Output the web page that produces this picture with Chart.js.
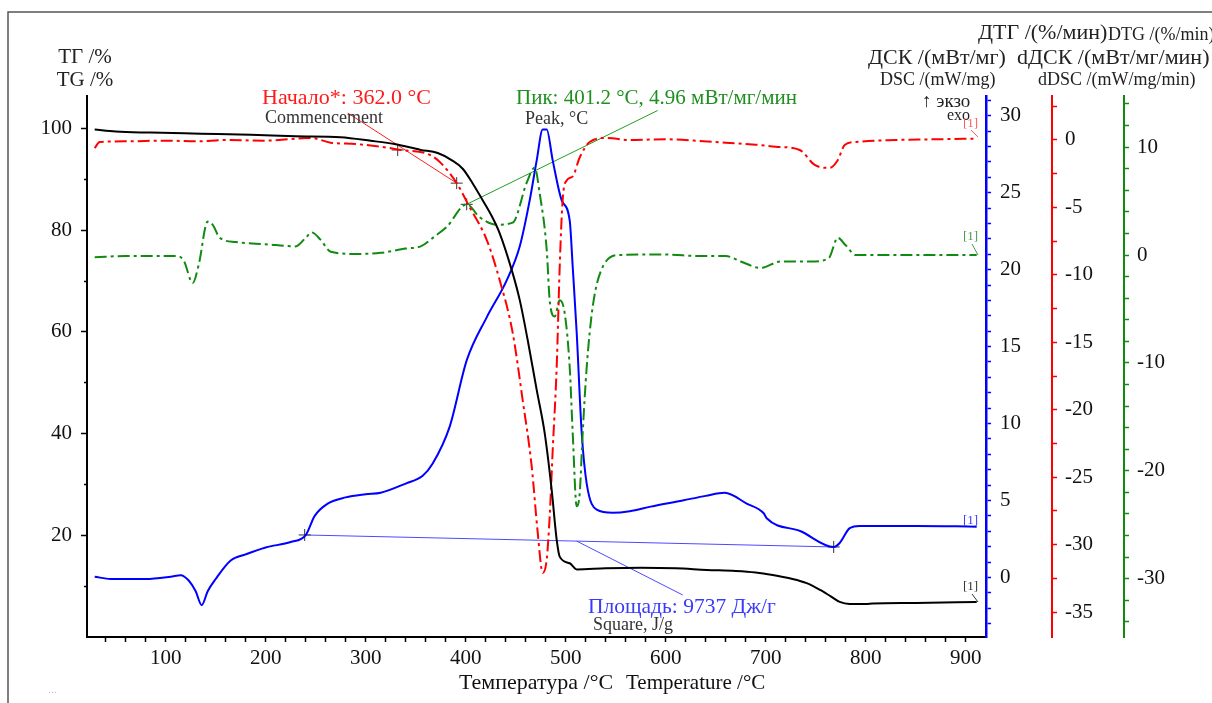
<!DOCTYPE html>
<html>
<head>
<meta charset="utf-8">
<script src="https://cdn.jsdelivr.net/npm/chart.js@4.4.1/dist/chart.umd.min.js"></script>
<style>
	body { margin: 0; background: #fff; }
	#wrap { width: 1212px; height: 703px; }
</style>
</head>
<body>
<div id="wrap"><canvas id="chart" width="1212" height="703"></canvas></div>
<script>

// ТГ, %
var tgT = [29, 50, 85, 135, 185, 230, 275, 305, 330, 355, 372, 385, 397, 407, 417, 426, 434, 446, 454, 462, 471, 479, 486, 491, 494, 504, 511, 540, 575, 610, 641, 670, 690, 707, 725, 741, 755, 765, 774, 784, 800, 807, 850, 911];
var tgV = [99.8, 99.4, 99.2, 99.0, 98.8, 98.5, 98.3, 97.6, 96.9, 95.8, 95.2, 93.9, 92.1, 89.2, 85.9, 82.8, 79.4, 72.2, 66.3, 58.4, 48.6, 40.1, 28.9, 19.1, 15.8, 14.5, 13.3, 13.5, 13.6, 13.5, 13.2, 13.0, 12.7, 12.2, 11.5, 10.6, 9.2, 8.0, 6.9, 6.5, 6.5, 6.6, 6.7, 6.9];

// ДТГ, %/мин
var dtgT = [29, 34, 60, 100, 130, 160, 200, 230, 245, 265, 290, 315, 335, 364, 375, 391, 404, 421, 434, 447, 457, 466, 472, 477, 481, 484, 487, 491, 494, 497, 501, 507, 514, 524, 541, 564, 600, 634, 660, 690, 710, 734, 749, 764, 772, 779, 790, 830, 870, 911];
var dtgV = [-0.6, -0.15, -0.1, -0.05, -0.1, 0.0, -0.05, 0.1, 0.15, -0.2, -0.3, -0.5, -0.74, -1.1, -1.7, -3.2, -5.0, -7.4, -10.4, -14.3, -19.3, -24.2, -29.1, -32.1, -31.1, -27.9, -23.0, -16.8, -9.4, -4.4, -3.0, -2.7, -1.3, -0.15, 0.15, 0.0, 0.05, -0.07, -0.2, -0.35, -0.5, -0.74, -1.85, -2.07, -1.5, -0.37, -0.15, 0.0, 0.05, 0.1];

// dДСК, мВт/мг/мин
var ddscT = [29, 60, 110, 118, 127, 133, 142, 147, 154, 170, 200, 230, 240, 246, 255, 265, 290, 315, 340, 355, 370, 381, 401, 414, 431, 447, 461, 469, 474, 481, 484, 489, 494, 499, 504, 507, 511, 514, 517, 521, 527, 537, 554, 600, 634, 660, 675, 695, 715, 745, 763, 772, 780, 790, 850, 911];
var ddscV = [-0.2, -0.1, -0.1, -0.5, -2.6, -0.9, 3.1, 2.8, 1.6, 1.2, 1.0, 0.8, 1.6, 2.1, 1.4, 0.3, 0.1, 0.2, 0.6, 0.8, 1.8, 2.6, 4.7, 3.5, 2.8, 3.0, 6.7, 8.1, 5.7, 0.5, -4.2, -5.7, -4.2, -5.4, -10.4, -16.5, -23.3, -22.1, -16.5, -10.4, -4.8, -1.1, 0.0, 0.05, -0.1, -0.1, -0.6, -1.2, -0.6, -0.6, -0.3, 1.6, 0.9, 0.0, 0.0, 0.0];

// ДСК, мВт/мг
var dscT = [29, 45, 80, 105, 115, 123, 130, 136, 142, 150, 165, 180, 200, 225, 240, 249, 262, 280, 300, 315, 340, 357, 367, 384, 401, 421, 441, 454, 464, 471, 477, 481, 487, 496, 504, 507, 511, 516, 521, 531, 547, 564, 585, 617, 640, 659, 681, 698, 701, 735, 768, 774, 784, 794, 850, 911];
var dscV = [0.05, -0.1, -0.1, 0.05, 0.15, -0.2, -0.9, -1.8, -0.9, -0.1, 1.1, 1.5, 1.95, 2.3, 2.75, 4.0, 4.8, 5.2, 5.4, 5.5, 6.1, 6.6, 7.4, 9.8, 14.1, 16.9, 19.3, 21.5, 24.5, 27.1, 29.1, 29.1, 27.1, 24.5, 23.2, 20.2, 15.9, 9.4, 6.1, 4.4, 4.2, 4.3, 4.6, 5.0, 5.3, 5.5, 4.8, 4.17, 3.85, 3.0, 1.98, 2.24, 3.2, 3.35, 3.35, 3.3];

// базовая линия площади и отметки
var baseT = [239, 768];
var baseV = [2.76, 1.98];
var onsetT = [332, 391];
var onsetV = [-0.74, -3.2];
var peakT = [401];
var peakV = [4.7];

// подписи осей
var xLabels = [100, 200, 300, 400, 500, 600, 700, 800, 900];
var tgLabels = [20, 40, 60, 80, 100];
var dscLabels = [0, 5, 10, 15, 20, 25, 30];
var dtgLabels = [0, -5, -10, -15, -20, -25, -30, -35];
var ddscLabels = [10, 0, -10, -20, -30];

function pts(t, v) {
	return t.map(function(x, i) { return {x: x, y: v[i]}; });
}

function steps(a, b, d) {
	var out = [];
	for (var v = a; v <= b + 1e-9; v += d) out.push(Math.round(v * 100) / 100);
	return out;
}

function setTicks(list) {
	return function(s) { s.ticks = list.map(function(v) { return {value: v}; }); };
}

function isMajor(list, v) {
	return list.indexOf(Math.round(v * 100) / 100) >= 0;
}

function onlyLabels(list) {
	return function(v) { return isMajor(list, v) ? String(v) : ''; };
}

function fixWidth(w) { return function(s) { s.width = w; }; }

var serif = "'Liberation Serif', 'Times New Roman', serif";
Chart.defaults.font.family = serif;
Chart.defaults.color = '#111';

// надписи и рамка
var textPlugin = {
	id: 'texts',
	afterDraw: function(chart) {
		var c = chart.ctx;
		c.save();
		c.strokeStyle = '#555';
		c.lineWidth = 1.5;
		c.beginPath();
		c.moveTo(8, 703);
		c.lineTo(8, 12);
		c.lineTo(1212, 12);
		c.stroke();

		function txt(s, x, y, size, color, align) {
			c.font = size + 'px ' + serif;
			c.fillStyle = color;
			c.textAlign = align || 'left';
			c.textBaseline = 'middle';
			c.fillText(s, x, y);
		}
		var dark = '#222';
		txt('ТГ /%', 85, 57, 21, dark, 'center');
		txt('TG /%', 85, 80, 21, dark, 'center');
		txt('ДТГ /(%/мин)', 978, 33, 22, dark);
		txt('DTG /(%/min)', 1108, 35, 18, dark);
		txt('ДСК /(мВт/мг)', 868, 58, 22, dark);
		txt('dДСК /(мВт/мг/мин)', 1017, 58, 22, dark);
		txt('DSC /(mW/mg)', 880, 80, 18, dark);
		txt('dDSC /(mW/mg/min)', 1038, 80, 18, dark);
		txt('↑ экзо', 922, 102, 19, dark);
		txt('exo', 947, 116, 16, dark);

		txt('Начало*: 362.0 °C', 262, 98, 22, '#ff1a1a');
		txt('Commencement', 265, 118, 18, '#333');
		txt('Пик: 401.2 °C, 4.96 мВт/мг/мин', 516, 98, 21, '#1f8f1f');
		txt('Peak, °C', 525, 119, 18, '#333');
		txt('Площадь: 9737 Дж/г', 588, 607, 21.5, '#3a3aff');
		txt('Square, J/g', 593, 625, 18, '#333');

		txt('Температура /°C', 459, 683, 22, '#111');
		txt('Temperature /°C', 626, 683, 21, '#111');
		txt('···', 48, 693, 9, '#99a');

		// метки [1] у концов кривых
		var tags = [
			['[1]', 963, 124, '#ff5a5a', 971, 130, 978, 137],
			['[1]', 963, 237, '#4a9a4a', 972, 244, 978, 255],
			['[1]', 963, 521, '#3a3aff', 0, 0, 0, 0],
			['[1]', 963, 587, '#333', 972, 594, 978, 602]
		];
		tags.forEach(function(t) {
			txt(t[0], t[1], t[2], 13, t[3]);
			if (t[4]) {
				c.strokeStyle = t[3];
				c.lineWidth = 1;
				c.beginPath();
				c.moveTo(t[4], t[5]);
				c.lineTo(t[6], t[7]);
				c.stroke();
			}
		});
		c.restore();
	}
};

var curve = { pointRadius: 0, borderWidth: 2, fill: false, cubicInterpolationMode: 'monotone' };

var config = {
	type: 'line',
	data: {
		datasets: [
			Object.assign({ data: pts(tgT, tgV), borderColor: '#000', yAxisID: 'yTG' }, curve),
			Object.assign({ data: pts(dtgT, dtgV), borderColor: '#ff0000', borderDash: [12, 4, 3, 4], yAxisID: 'yDTG' }, curve),
			Object.assign({ data: pts(ddscT, ddscV), borderColor: '#108a10', borderDash: [12, 4, 3, 4], yAxisID: 'yDDSC' }, curve),
			Object.assign({ data: pts(dscT, dscV), borderColor: '#0000ff', yAxisID: 'yDSC' }, curve),
			// базовая линия
			{ data: pts(baseT, baseV), yAxisID: 'yDSC', borderColor: '#4a4aff', borderWidth: 1,
				pointStyle: 'cross', pointRadius: 6, pointBorderColor: '#333', pointBorderWidth: 1 },
			// выноски
			{ data: [{x: 282, y: 2.0}, {x: onsetT[1], y: onsetV[1]}], yAxisID: 'yDTG', borderColor: '#ff2020', borderWidth: 1, pointRadius: 0 },
			{ data: [{x: peakT[0], y: peakV[0]}, {x: 592, y: 13.4}], yAxisID: 'yDDSC', borderColor: '#1f9f1f', borderWidth: 1, pointRadius: 0 },
			{ data: [{x: 511, y: 2.36}, {x: 617, y: -1.14}], yAxisID: 'yDSC', borderColor: '#4a4aff', borderWidth: 1, pointRadius: 0 },
			// отметки
			{ data: pts(onsetT, onsetV), yAxisID: 'yDTG', showLine: false,
				pointStyle: 'cross', pointRadius: 6, pointBorderColor: '#333', pointBorderWidth: 1 },
			{ data: pts(peakT, peakV), yAxisID: 'yDDSC', showLine: false,
				pointStyle: 'cross', pointRadius: 6, pointBorderColor: '#333', pointBorderWidth: 1 }
		]
	},
	options: {
		responsive: false,
		animation: false,
		devicePixelRatio: 1,
		events: [],
		layout: { padding: { top: 96, left: 0, right: 0, bottom: 0 } },
		plugins: {
			legend: { display: false },
			tooltip: { enabled: false }
		},
		scales: {
			x: {
				type: 'linear', position: 'bottom', min: 21.3, max: 920.3,
				afterBuildTicks: setTicks(steps(40, 900, 20)),
				afterFit: function(s) { s.height = 66; },
				border: { color: '#000', width: 2 },
				grid: { drawOnChartArea: false, tickLength: 5, tickColor: '#000', tickWidth: 1.5 },
				ticks: { autoSkip: false, maxRotation: 0, padding: 4, font: { size: 21 }, callback: onlyLabels(xLabels) }
			},
			yTG: {
				type: 'linear', position: 'left', min: 0, max: 106.4,
				afterBuildTicks: setTicks(steps(10, 100, 10)),
				afterFit: fixWidth(87),
				border: { color: '#000', width: 2 },
				grid: {
					drawOnChartArea: false, tickLength: 6, tickColor: '#000', tickWidth: 1.5,
					// короткие промежуточные деления
					tickBorderDash: function(ctx) { return ctx.tick && isMajor(tgLabels, ctx.tick.value) ? [] : [0, 3, 3, 20]; }
				},
				ticks: { autoSkip: false, padding: 9, font: { size: 21 }, callback: onlyLabels(tgLabels) }
			},
			yDSC: {
				type: 'linear', position: 'right', weight: 0, min: -3.87, max: 31.28,
				afterBuildTicks: setTicks(steps(-3, 31, 1)),
				afterFit: fixWidth(66),
				border: { color: '#0000ff', width: 2.5 },
				grid: { drawOnChartArea: false, tickLength: 5, tickColor: '#0000ff', tickWidth: 1.5 },
				ticks: { autoSkip: false, padding: 9, font: { size: 21 }, callback: onlyLabels(dscLabels) }
			},
			yDTG: {
				type: 'linear', position: 'right', weight: 1, min: -36.85, max: 3.26,
				afterBuildTicks: setTicks(steps(-35, 2.5, 2.5)),
				afterFit: fixWidth(72),
				border: { color: '#ff0000', width: 2 },
				grid: { drawOnChartArea: false, tickLength: 5, tickColor: '#ff0000', tickWidth: 1.5 },
				ticks: { autoSkip: false, padding: 8, font: { size: 21 }, callback: onlyLabels(dtgLabels) }
			},
			yDDSC: {
				type: 'linear', position: 'right', weight: 2, min: -35.41, max: 14.74,
				afterBuildTicks: setTicks(steps(-34, 14, 2)),
				afterFit: fixWidth(88),
				border: { color: '#108a10', width: 2 },
				grid: { drawOnChartArea: false, tickLength: 5, tickColor: '#108a10', tickWidth: 1.5 },
				ticks: { autoSkip: false, padding: 8, font: { size: 21 }, callback: onlyLabels(ddscLabels) }
			}
		}
	},
	plugins: [textPlugin]
};

var chart = new Chart(document.getElementById('chart'), config);
</script>
</body>
</html>
